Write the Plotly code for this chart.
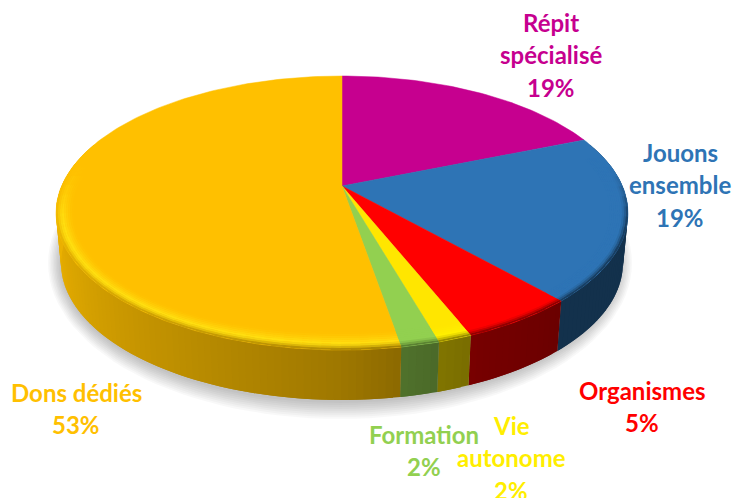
import numpy as np
import plotly.graph_objects as go

categories = ["Répit spécialisé", "Jouons ensemble", "Organismes", "Vie autonome", "Formation", "Dons dédiés"]
shares = [18.9, 19.49, 5.49, 1.6, 1.8, 52.72]
printed_percent = ["19%", "19%", "5%", "2%", "2%", "53%"]
label_lines = [["Répit", "spécialisé"], ["Jouons", "ensemble"], ["Organismes"], ["Vie", "autonome"], ["Formation"], ["Dons dédiés"]]

# Styles
slice_colors = ["#C6008F", "#2E74B5", "#FF0000", "#FFE600", "#92D050", "#FFC000"]
text_colors = ["#C6008F", "#2E74B5", "#FF0000", "#FFEE00", "#92D050", "#FFC000"]
rim_colors = ["#C6008F", "#2E74B5", "#FF0000", "#FFF000", "#92D050", "#FFDF10"]
label_centres = [(551, 22), (680, 152), (642, 390), (511, 425), (424, 434), (76, 392)]
line_step = 32.5

# Pie geometry (pixel space)
CX, EY, RX, RY = 342, 213, 286, 137
APEX_Y = 186
K = 0.818
WALL_H, RXB = 50, 281
BEVEL = 18


def hex2rgb(c):
    return np.array([int(c[i:i + 2], 16) for i in (1, 3, 5)], float)


def rgb(v):
    v = np.clip(v, 0, 255).round().astype(int)
    return f"rgb({v[0]},{v[1]},{v[2]})"


def phi_of(theta):
    return 2 * np.arctan2(K * np.sin(theta / 2), np.cos(theta / 2))


def top_pt(phi):
    return CX + RX * np.sin(phi), EY - RY * np.cos(phi)


def inset_pt(phi, px):
    x, y = top_pt(phi)
    d = np.hypot(x - CX, y - APEX_Y)
    w = px / d
    return x + (CX - x) * w, y + (APEX_Y - y) * w


def bot_pt(phi):
    return CX + RXB * np.sin(phi), EY + WALL_H - RY * np.cos(phi)


def wall_factor(deg):
    return np.interp(deg, [60, 130, 150, 165, 180, 215, 270, 300], [.42, .42, .46, .53, .62, .74, .92, .92])


def facing(deg):
    d = np.abs(deg - 180)
    t = np.clip((112 - d) / 30, 0, 1)
    return t * t * (3 - 2 * t)


fig = go.Figure()


def poly(xs, ys, color, width=0.5):
    fig.add_trace(go.Scatter(x=np.append(xs, xs[0]), y=np.append(ys, ys[0]), mode="lines", fill="toself",
                             fillcolor=color, line=dict(color=color, width=width),
                             hoverinfo="skip", showlegend=False))


# Soft drop shadow
circ = np.radians(np.arange(0, 361, 3))
for i in range(9):
    grow = i / 8
    rx_s, ry_s = 292 - 12 * grow, 156 - 16 * grow
    fig.add_trace(go.Scatter(x=340 + rx_s * np.sin(circ), y=263 - ry_s * np.cos(circ), mode="lines", fill="toself",
                             fillcolor="rgba(0,0,0,0.026)", line=dict(width=0), hoverinfo="skip", showlegend=False))

total = sum(shares)
cum = np.concatenate([[0], np.cumsum(shares)]) / total * 2 * np.pi
edges = [(phi_of(cum[i]), phi_of(cum[i + 1])) for i in range(len(shares))]

# Side wall: each strip runs on under the next one, so no seam shows between them
for (p0, p1), col in zip(edges, slice_colors):
    a0, a1 = max(p0, np.radians(60)), min(p1, np.radians(300))
    if a1 <= a0:
        continue
    n = max(1, int(np.degrees(a1 - a0) / 1.5))
    stops = np.linspace(a0, a1, n + 1)
    base = hex2rgb(col)
    for s0, s1 in zip(stops[:-1], stops[1:]):
        end = s1 + (0 if s1 == a1 else (s1 - s0))
        arc = np.linspace(s0, end, 3)
        tx, ty = top_pt(arc)
        bx, by = bot_pt(arc[::-1])
        poly(np.r_[tx, bx], np.r_[ty, by], rgb(base * wall_factor(np.degrees((s0 + s1) / 2))), width=0)

# Flat top slices
for (p0, p1), col in zip(edges, slice_colors):
    arc = np.linspace(p0, p1, max(4, int(np.degrees(p1 - p0))))
    x, y = top_pt(arc)
    poly(np.r_[CX, x], np.r_[APEX_Y, y], col)

# Bevel rings along the front rim
rings = np.linspace(0, 1, 10)
for (p0, p1), col, rim in zip(edges, slice_colors, rim_colors):
    a0, a1 = max(p0, np.radians(66)), min(p1, np.radians(294))
    if a1 <= a0:
        continue
    n = max(1, int(np.degrees(a1 - a0) / 4))
    stops = np.linspace(a0, a1, n + 1)
    base, hi = hex2rgb(col), hex2rgb(rim)
    for s0, s1 in zip(stops[:-1], stops[1:]):
        mid = np.degrees((s0 + s1) / 2)
        f = facing(mid)
        wall = base * wall_factor(mid)
        end = s1 + (0 if s1 == a1 else (s1 - s0) * 0.5)
        arc = np.linspace(s0, end, 3)
        for r0, r1 in zip(rings[:-1], rings[1:]):
            t = (r0 + r1) / 2
            if t < 0.62:
                c = base + (hi - base) * (t / 0.62) ** 1.5
            else:
                u = (t - 0.62) / 0.38
                c = hi + (wall - hi) * u ** 1.5
            c = base + (c - base) * f
            x0, y0 = inset_pt(arc, BEVEL * (1 - r0))
            x1, y1 = inset_pt(arc[::-1], BEVEL * (1 - r1))
            poly(np.r_[x0, x1], np.r_[y0, y1], rgb(c), width=0)

# Labels
for lines, pct, (lx, ly), col in zip(label_lines, printed_percent, label_centres, text_colors):
    for j, s in enumerate(lines + [pct]):
        fig.add_annotation(x=lx, y=ly + j * line_step, text=f"<b>{s}</b>", showarrow=False,
                           font=dict(family="Lato, Carlito, Calibri, sans-serif", size=24, color=col),
                           xanchor="center", yanchor="middle")

fig.update_layout(width=735, height=498, margin=dict(l=0, r=0, t=0, b=0), paper_bgcolor="white",
                  plot_bgcolor="white", showlegend=False,
                  xaxis=dict(range=[0, 735], visible=False, fixedrange=True),
                  yaxis=dict(range=[498, 0], visible=False, fixedrange=True))
fig.write_html("out.html", config=dict(displayModeBar=False),
               post_script="document.body.style.margin='0';document.documentElement.style.overflow='hidden';")
